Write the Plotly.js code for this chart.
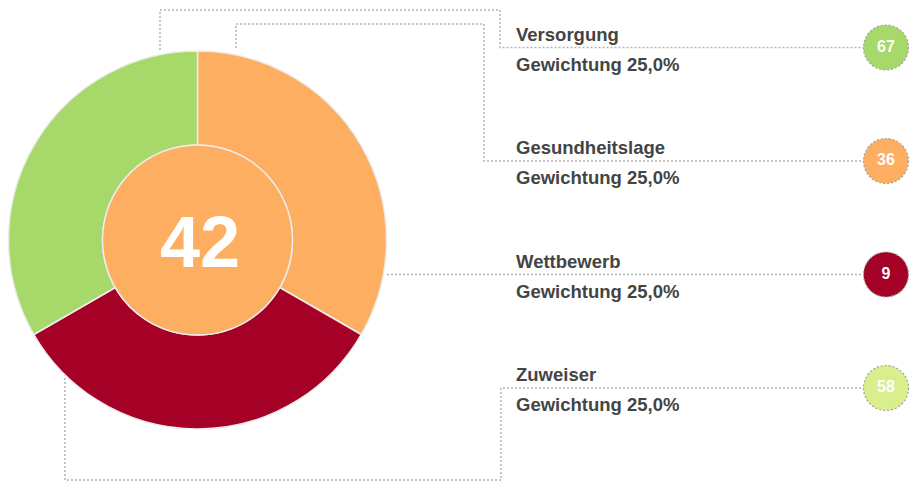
<!DOCTYPE html>
<html>
<head>
<meta charset="utf-8">
<script src="https://cdn.plot.ly/plotly-3.0.1.min.js"></script>
<style>html,body{margin:0;padding:0;background:#fff;}#chart{width:921px;height:482px;}</style>
</head>
<body>
<div id="chart"></div>
<script>
// ---- data ----
const categories = ["Versorgung", "Gesundheitslage", "Wettbewerb", "Zuweiser"];
const scores = [67, 36, 9, 58];
const weights = [25, 25, 25, 25];
const scoreColors = ["#a6d96a", "#fdae61", "#a50026", "#d9ef8b"];
const ringCategories = ["Gesundheitslage", "Wettbewerb", "Versorgung"];
const totalScore = 42;
const totalColor = "#fdae61";

// ---- layout helpers (pixel geometry) ----
const W = 921, H = 482;
const cx = 197.5, cy = 240, rOuter = 189, rInner = 95;
const badgeX = 886, badgeR = 22.5;
const rowY = [47.5, 161, 274.5, 388];
const textX = 514;
const lineColor = "#b3b3b3";
const font = "Liberation Sans, Arial, sans-serif";

function dom(r) {
  return {
    x: [(cx - r) / W, (cx + r) / W],
    y: [(H - cy - r) / H, (H - cy + r) / H]
  };
}

const ringValues = ringCategories.map(c => weights[categories.indexOf(c)]);
const ringColors = ringCategories.map(c => scoreColors[categories.indexOf(c)]);

const traces = [];
traces.push({
  type: "pie",
  labels: ringCategories,
  values: ringValues,
  marker: {colors: ringColors, line: {color: "#ececec", width: 1.5}},
  hole: rInner / rOuter,
  sort: false,
  direction: "clockwise",
  rotation: 0,
  textinfo: "none",
  hoverinfo: "none",
  showlegend: false,
  domain: dom(rOuter)
});
traces.push({
  type: "pie",
  labels: ["Gesamt"],
  values: [totalScore],
  marker: {colors: [totalColor], line: {color: "#ececec", width: 1.5}},
  sort: false,
  textinfo: "none",
  hoverinfo: "none",
  showlegend: false,
  domain: dom(rInner)
});

// connectors (pixel coords, decoration)
const connectors = [
  [[160, 50], [160, 10], [500, 10], [500, 47.5], [badgeX - badgeR, 47.5]],
  [[236, 48], [236, 24], [484, 24], [484, 161], [badgeX - badgeR, 161]],
  [[387, 274.5], [badgeX - badgeR, 274.5]],
  [[65, 374], [65, 480], [501, 480], [501, 388], [badgeX - badgeR, 388]]
];
connectors.forEach(pts => {
  traces.push({
    type: "scatter", mode: "lines",
    x: pts.map(p => p[0]), y: pts.map(p => p[1]),
    line: {color: lineColor, width: 1.5, dash: "2px,2px"},
    hoverinfo: "skip", showlegend: false
  });
});

// badge numbers
traces.push({
  type: "scatter", mode: "text",
  x: categories.map(() => badgeX),
  y: rowY,
  text: scores.map(String),
  textposition: "middle center",
  textfont: {family: font, size: 16, color: "#ffffff", weight: "bold"},
  hoverinfo: "skip", showlegend: false
});

const shapes = categories.map((c, i) => ({
  type: "circle", xref: "x", yref: "y", layer: "below",
  x0: badgeX - badgeR, x1: badgeX + badgeR,
  y0: rowY[i] - badgeR, y1: rowY[i] + badgeR,
  fillcolor: scoreColors[i],
  line: {color: "#a0a0a0", width: 1.2, dash: "2px,2px"}
}));

const annotations = [];
categories.forEach((c, i) => {
  annotations.push({
    xref: "x", yref: "y", x: textX, y: rowY[i] - 13.5, xanchor: "left", yanchor: "middle",
    text: c, showarrow: false,
    font: {family: font, size: 18.5, color: "#444444", weight: "bold"}
  });
  annotations.push({
    xref: "x", yref: "y", x: textX, y: rowY[i] + 16.5, xanchor: "left", yanchor: "middle",
    text: "Gewichtung " + weights[i].toFixed(1).replace(".", ",") + "%", showarrow: false,
    font: {family: font, size: 18.5, color: "#444444", weight: "bold"}
  });
});
annotations.push({
  xref: "x", yref: "y", x: cx + 2, y: cy + 2, xanchor: "center", yanchor: "middle",
  text: String(totalScore), showarrow: false,
  font: {family: font, size: 72, color: "#ffffff", weight: "bold"}
});

const layout = {
  width: W, height: H,
  margin: {l: 0, r: 0, t: 0, b: 0},
  paper_bgcolor: "#ffffff", plot_bgcolor: "rgba(0,0,0,0)",
  xaxis: {range: [0, W], visible: false, fixedrange: true, domain: [0, 1]},
  yaxis: {range: [H, 0], visible: false, fixedrange: true, domain: [0, 1]},
  showlegend: false,
  shapes: shapes,
  annotations: annotations
};

Plotly.newPlot("chart", traces, layout, {displayModeBar: false, staticPlot: true});
</script>
</body>
</html>
